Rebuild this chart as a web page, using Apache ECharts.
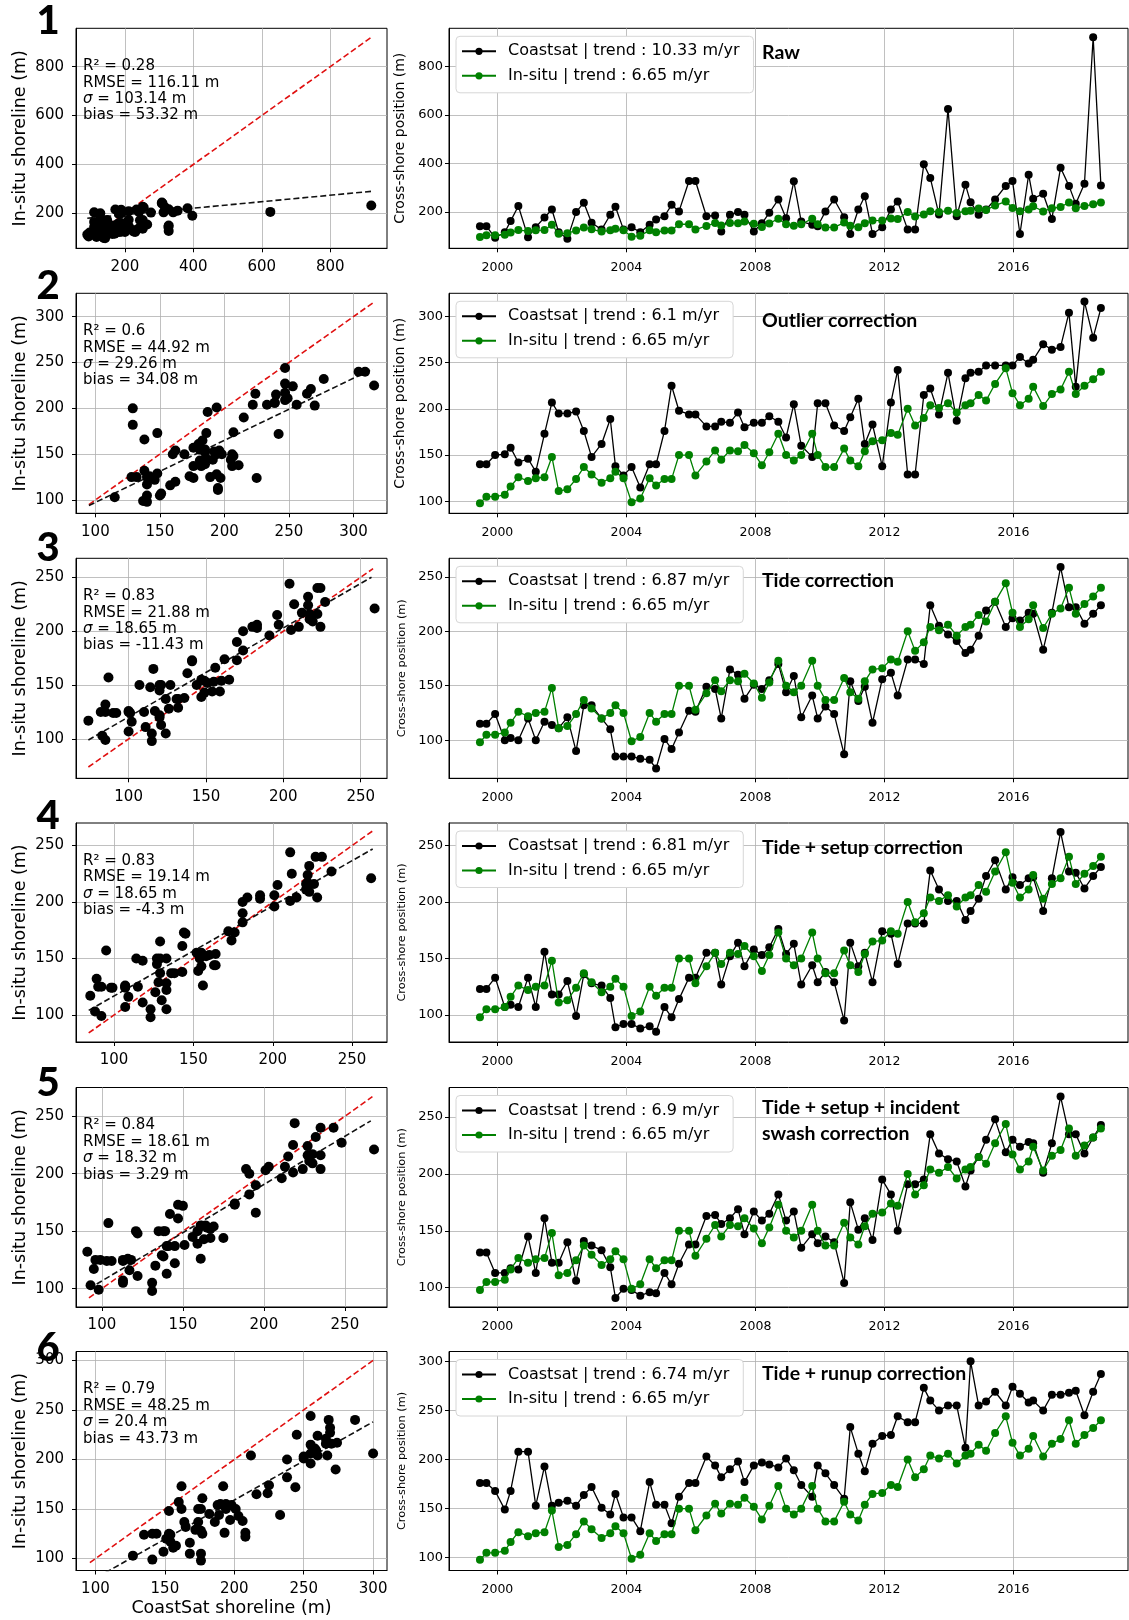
<!DOCTYPE html>
<html><head><meta charset="utf-8">
<script src="https://cdn.jsdelivr.net/npm/echarts@6/dist/echarts.min.js"></script>
<style>html,body{margin:0;padding:0;background:#fff}#c{width:1129px;height:1620px}</style>
</head><body><div id="c"></div>
<script>
// ---------- DATA ----------
const years = [1999.46,1999.66,1999.93,2000.23,2000.41,2000.65,2000.95,2001.19,2001.46,2001.69,
2001.90,2002.17,2002.44,2002.68,2002.92,2003.23,2003.50,2003.66,2003.91,2004.16,
2004.43,2004.72,2004.92,2005.18,2005.40,2005.63,2005.94,2006.14,2006.48,2006.75,
2006.94,2007.21,2007.46,2007.66,2007.95,2008.20,2008.43,2008.71,2008.95,2009.19,
2009.42,2009.76,2009.93,2010.17,2010.44,2010.75,2010.94,2011.19,2011.39,2011.63,
2011.93,2012.20,2012.41,2012.72,2012.95,2013.22,2013.42,2013.69,2013.97,2014.24,
2014.51,2014.67,2014.92,2015.15,2015.43,2015.76,2015.97,2016.20,2016.47,2016.61,
2016.92,2017.19,2017.46,2017.72,2017.93,2018.20,2018.47,2018.71];
const insitu = [98,105,105,107,116,126,122,125,126,148, 111,113,124,137,129,120,125,132,125,99,
103,125,117,124,124,150,150,128,143,155, 145,155,154,161,152,139,153,173,150,144,
150,173,150,137,137,157,144,138,154,165, 166,174,172,200,182,190,204,201,206,196,
204,206,215,209,227,244,217,204,211,224, 203,216,221,240,216,225,232,240];
const coastRaw = [142,142,94,117,163,225,97,138,178,211, 117,90,200,239,156,128,189,222,128,138,
117,148,170,183,230,203,328,328,183,186, 120,189,200,189,120,154,197,252,175,327,
161,148,142,203,252,179,110,211,265,110, 138,211,244,128,128,397,341,190,625,183,
313,241,189,211,252,308,328,110,354,255, 276,172,383,308,234,317,920,310];
const coastOutlier = [140,140,150,151,158,142,146,132,173,207, 195,195,197,176,148,162,189,138,128,137,
115,140,140,176,225,198,194,194,181,181, 186,185,196,180,185,185,192,186,169,205,
160,148,206,206,182,176,191,211,162,183, 138,207,242,129,129,215,222,194,239,187,
233,239,240,247,247,247,247,256,249,253, 270,264,267,304,224,316,277,309];
const coastTide = [115,115,124,100,102,100,120,100,117,114, 111,121,90,132,132,120,110,85,85,85,
83,82,74,101,92,107,127,126,149,147, 120,165,160,138,151,147,155,170,144,159,
121,141,120,131,124,87,154,136,149,116, 156,162,141,174,174,170,224,205,197,191,
180,183,196,219,227,204,212,210,217,216, 183,217,259,222,222,207,216,224];
const coastSetup = [123,123,133,107,109,107,133,107,156,118, 118,130,99,136,128,126,115,89,92,92,
88,90,85,107,98,114,133,133,155,155, 127,152,164,143,158,153,160,176,154,163,
127,144,129,138,129,95,164,143,155,129, 174,172,145,181,181,181,228,211,201,201,
184,192,203,223,237,211,222,215,221,222, 192,221,262,227,226,212,223,231];
const coastSwash = [131,131,113,113,117,116,145,113,161,122, 122,140,106,141,137,133,118,91,99,98,
93,96,95,113,103,121,138,138,163,164, 156,161,169,147,167,159,165,182,159,167,
135,147,139,145,140,104,175,151,161,142, 195,182,150,191,191,195,235,218,213,211,
189,203,215,230,248,219,230,224,228,227, 201,227,268,235,235,218,232,243];
const coastRunup = [176,176,168,149,168,208,208,153,193,153, 156,158,153,164,172,151,144,165,141,141,
127,177,154,154,135,162,176,176,203,194, 182,190,198,177,194,197,195,192,201,189,
174,162,194,186,174,160,233,206,188,216, 224,225,244,238,238,273,260,250,255,255,
212,300,255,259,269,255,274,267,258,260, 250,266,266,268,270,245,269,287];
const coastSeries = [coastRaw, coastOutlier, coastTide, coastSetup, coastSwash, coastRunup];

const coastTrends = ['10.33','6.1','6.87','6.81','6.9','6.74'];
const insituTrend = '6.65';
const panelNumbers = ['1','2','3','4','5','6'];
const panelTitles = ['Raw','Outlier correction','Tide correction','Tide + setup correction',
  'Tide + setup + incident\nswash correction','Tide + runup correction'];
const statR2 = ['0.28','0.6','0.83','0.83','0.84','0.79'];
const statRMSE = ['116.11','44.92','21.88','19.14','18.61','48.25'];
const statSigma = ['103.14','29.26','18.65','18.65','18.32','20.4'];
const statBias = ['53.32','34.08','-11.43','-4.3','3.29','43.73'];
// regression (black dashed) line end points
const fitX = [[90,920],[95,315],[74,257],[84,263],[92,266],[96,300]];
const fitY = [[180,290],[94,243],[99,250],[104,247],[100,246],[77,238]];
// 1:1 (red dashed) line extent
const oneToOne = [[90,920],[95,315],[74,258],[84,263],[92,267],[96,300]];

// axis extents and tick labels
const scatXRange = [[57,966],[85,326],[66,267],[76,272],[84,276],[86,310]];
const scatYRange = [[57,957],[85.5,325.5],[63.5,267.6],[76,270],[84,275],[88,309]];
const scatXTicks = [[200,400,600,800],[100,150,200,250,300],[100,150,200,250],[100,150,200,250],[100,150,200,250],[100,150,200,250,300]];
const scatYTicks = [[200,400,600,800],[100,150,200,250,300],[100,150,200,250],[100,150,200,250],[100,150,200,250],[100,150,200,250,300]];
const tsYRange = [[51,957],[87,325],[65,267],[76,270],[83,276],[87,310]];
const tsYTicks = [[200,400,600,800],[100,150,200,250,300],[100,150,200,250],[100,150,200,250],[100,150,200,250],[100,150,200,250,300]];
const yearTicks = [2000,2004,2008,2012,2016];
const yearRange = [1998.5, 2019.55];

// ---------- LAYOUT ----------
const rowTop = [28.3, 293.3, 558.3, 823, 1087.5, 1351.5];
const rowH = [220, 220, 220, 219, 219.5, 219];
const scatLeft = 76, scatW = 311;
const tsLeft = 449, tsW = 679;
const titleY = [53, 321, 581, 848, 1121, 1374];
const numberY = [21, 286, 548, 816, 1083, 1348];
const tsNameSize = [14, 14, 11.3, 11.3, 11.3, 11.3];

const FONT = 'DejaVu Sans';
const grids = [], xAxes = [], yAxes = [], series = [], legends = [], graphics = [];

function axisBase(ticks, fs, margin, fmt) {
  const lab = {customValues: ticks, color: '#000', fontFamily: FONT, fontSize: fs, margin: margin};
  if (fmt) lab.formatter = fmt;
  return {
    axisLine: {show: true, onZero: false, lineStyle: {color: '#000', width: 1}},
    axisTick: {show: true, length: 4, inside: false, customValues: ticks, lineStyle: {color: '#000', width: 1}},
    splitLine: {show: true, lineStyle: {color: '#b0b0b0', width: 0.8}},
    axisLabel: lab,
  };
}
const plain = v => String(Math.round(v));

for (let i = 0; i < 6; i++) {
  const gS = 2 * i, gT = 2 * i + 1;
  grids.push({left: scatLeft, top: rowTop[i], width: scatW, height: rowH[i], show: true, borderColor: '#000', borderWidth: 1, backgroundColor: 'transparent'});
  grids.push({left: tsLeft, top: rowTop[i], width: tsW, height: rowH[i], show: true, borderColor: '#000', borderWidth: 1, backgroundColor: 'transparent'});

  // scatter axes
  const sx = Object.assign({type: 'value', gridIndex: gS, min: scatXRange[i][0], max: scatXRange[i][1]}, axisBase(scatXTicks[i], 15, 11, plain));
  if (i === 5) {
    sx.name = 'CoastSat shoreline (m)';
    sx.nameLocation = 'middle';
    sx.nameGap = 29;
    sx.nameTextStyle = {fontFamily: FONT, fontSize: 17.5, color: '#000'};
  }
  xAxes.push(sx);
  const sy = Object.assign({type: 'value', gridIndex: gS, min: scatYRange[i][0], max: scatYRange[i][1],
    name: 'In-situ shoreline (m)', nameLocation: 'middle', nameGap: 47,
    nameTextStyle: {fontFamily: FONT, fontSize: 17.5, color: '#000'}}, axisBase(scatYTicks[i], 15, 12, plain));
  yAxes.push(sy);

  // time series axes
  xAxes.push(Object.assign({type: 'value', gridIndex: gT, min: yearRange[0], max: yearRange[1]}, axisBase(yearTicks, 12.5, 13, plain)));
  yAxes.push(Object.assign({type: 'value', gridIndex: gT, min: tsYRange[i][0], max: tsYRange[i][1],
    name: 'Cross-shore position (m)', nameLocation: 'middle', nameGap: 40,
    nameTextStyle: {fontFamily: FONT, fontSize: tsNameSize[i], color: '#000'}}, axisBase(tsYTicks[i], 13, 6, plain)));

  const coast = coastSeries[i];
  // 1:1 line
  series.push({type: 'line', xAxisIndex: gS, yAxisIndex: gS, symbol: 'none', silent: true, z: 3,
    data: [[oneToOne[i][0], oneToOne[i][0]], [oneToOne[i][1], oneToOne[i][1]]],
    lineStyle: {color: '#e01010', width: 1.6, type: [6, 3]}});
  // regression line
  series.push({type: 'line', xAxisIndex: gS, yAxisIndex: gS, symbol: 'none', silent: true, z: 3,
    data: [[fitX[i][0], fitY[i][0]], [fitX[i][1], fitY[i][1]]],
    lineStyle: {color: '#111', width: 1.6, type: [6, 3]}});
  // scatter
  series.push({type: 'scatter', xAxisIndex: gS, yAxisIndex: gS, symbolSize: 10, z: 4,
    itemStyle: {color: '#000', opacity: 1},
    data: coast.map((c, k) => [c, insitu[k]])});

  const coastName = 'Coastsat | trend : ' + coastTrends[i] + ' m/yr';
  const insituName = 'In-situ | trend : ' + insituTrend + ' m/yr';
  series.push({type: 'line', name: coastName, xAxisIndex: gT, yAxisIndex: gT, symbol: 'circle', symbolSize: 8,
    showAllSymbol: true, z: 3, itemStyle: {color: '#000'}, lineStyle: {color: '#000', width: 1.3},
    data: years.map((y, k) => [y, coast[k]])});
  series.push({type: 'line', name: insituName, xAxisIndex: gT, yAxisIndex: gT, symbol: 'circle', symbolSize: 8,
    showAllSymbol: true, z: 4, itemStyle: {color: '#008000'}, lineStyle: {color: '#008000', width: 1.3},
    data: years.map((y, k) => [y, insitu[k]])});

  legends.push({orient: 'vertical', left: 456, top: rowTop[i] + 8, itemWidth: 34, itemHeight: 9, itemGap: 8.5,
    padding: [7, 14, 9, 5], borderColor: '#d6d6d6', borderWidth: 1, borderRadius: 4, backgroundColor: '#fff',
    selectedMode: false,
    textStyle: {fontFamily: FONT, fontSize: 16, color: '#000', padding: [0, 0, 0, 7]},
    data: [coastName, insituName]});

  // panel number
  graphics.push({type: 'text', x: 48, y: numberY[i], z: 100,
    style: {text: panelNumbers[i], fontFamily: 'Lato', fontWeight: 900, fontSize: 40, fill: '#000', align: 'center', verticalAlign: 'middle'}});
  // panel title
  graphics.push({type: 'text', x: 762, y: titleY[i], z: 100,
    style: {text: panelTitles[i], fontFamily: 'Lato', fontWeight: 'bold', fontSize: 19.5, lineHeight: 26, fill: '#000', align: 'left', verticalAlign: 'middle'}});
  // stats
  const sy0 = rowTop[i] + 38, dy = 16.4;
  const statLines = ['R² = ' + statR2[i], 'RMSE = ' + statRMSE[i] + ' m', '{i|σ} = ' + statSigma[i] + ' m', 'bias = ' + statBias[i] + ' m'];
  statLines.forEach((t, k) => {
    graphics.push({type: 'text', x: 83, y: sy0 + k * dy, z: 100,
      style: {text: t, fontFamily: FONT, fontSize: 15, fill: '#000', align: 'left', verticalAlign: 'middle',
        rich: {i: {fontFamily: FONT, fontSize: 15, fontStyle: 'italic', fill: '#000'}}}});
  });
}

const chart = echarts.init(document.getElementById('c'), null, {renderer: 'canvas'});
chart.setOption({
  animation: false,
  backgroundColor: '#fff',
  grid: grids, xAxis: xAxes, yAxis: yAxes, series: series, legend: legends, graphic: graphics
});
</script></body></html>
